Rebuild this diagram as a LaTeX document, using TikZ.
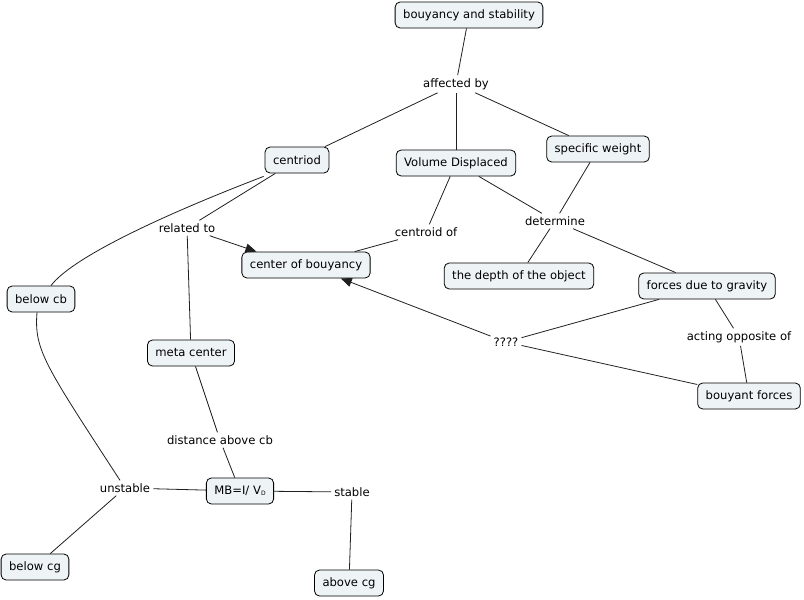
\documentclass[tikz,border=0pt]{standalone}
\usepackage{fontspec}
\setmainfont{DejaVu Sans}
\usetikzlibrary{arrows.meta}
\definecolor{boxfill}{HTML}{EEF3F6}
\definecolor{ln}{HTML}{202020}
\begin{document}
\begin{tikzpicture}[x=1pt,y=-1pt,
  every node/.style={font=\fontsize{11.6}{14}\selectfont, text=black},
  concept/.style={draw=black, line width=0.8pt, fill=boxfill, rounded corners=5pt,
    minimum height=26pt, inner xsep=8pt, inner ysep=2pt},
  linkp/.style={inner sep=3pt},
  conn/.style={draw=ln, line width=0.8pt},
  arr/.style={conn, -{Triangle[length=11pt,width=9pt]}}]
\useasboundingbox (0,0) rectangle (804,600);
\fill[white] (0,0) rectangle (804,600);
% concepts
\node[concept] (bs) at (469,15) {bouyancy and stability};
\node[concept] (cen) at (297,160) {centriod};
\node[concept] (vd) at (456,163) {Volume Displaced};
\node[concept] (sw) at (598,149) {specific weight};
\node[concept] (cob) at (306,265) {center of bouyancy};
\node[concept] (dep) at (519,276) {the depth of the object};
\node[concept] (fg) at (707,286) {forces due to gravity};
\node[concept] (bcb) at (41,299) {below cb};
\node[concept] (mc) at (191,353) {meta center};
\node[concept] (bf) at (749,396) {bouyant forces};
\node[concept] (mb) at (240,491) {MB=I/ V\raisebox{-1.5pt}{\fontsize{6}{7}\selectfont D}};
\node[concept] (bcg) at (35,567) {below cg};
\node[concept] (acg) at (349,583) {above cg};
% linking phrases
\node[linkp] (aff) at (456,84) {affected by};
\node[linkp] (rel) at (187,228) {related to};
\node[linkp] (cof) at (426,232) {centroid of};
\node[linkp] (det) at (555,221) {determine};
\node[linkp] (qq) at (506,342) {????};
\node[linkp] (opp) at (739,337) {acting opposite of};
\node[linkp] (dist) at (220,440) {distance above cb};
\node[linkp] (uns) at (125,488) {unstable};
\node[linkp] (sta) at (352,492) {stable};
% connectors
\draw[conn] (bs) -- (aff);
\draw[conn] (aff) -- (cen);
\draw[conn] (aff) -- (vd);
\draw[conn] (aff) -- (sw);
\draw[conn] (cen) -- (rel);
\draw[arr] (rel) -- ([xshift=15pt]cob.north west);
\draw[conn] (rel) -- (mc);
\draw[conn] (vd) -- (cof);
\draw[conn] (cof) -- (cob);
\draw[conn] (vd) -- (det);
\draw[conn] (sw) -- (det);
\draw[conn] (det) -- (dep);
\draw[conn] (det) -- (fg);
\draw[conn] (fg) -- (qq);
\draw[arr] (qq) -- (cob);
\draw[conn] (bf) -- (qq);
\draw[conn] (fg) -- (opp);
\draw[conn] (opp) -- (bf);
\draw[conn] (mc) -- (dist);
\draw[conn] (dist) -- (mb);
\draw[conn] (mb) -- (uns);
\draw[conn] (uns) -- (bcg);
\draw[conn] (mb) -- (sta);
\draw[conn] (sta) -- (acg);
\draw[conn] ([xshift=-1pt,yshift=-3pt]cen.south west) .. controls (150,220) and (70,260) .. ([xshift=10pt]bcb.north);
\draw[conn] ([xshift=-4pt]bcb.south) .. controls (34,350) and (45,365) .. (uns);
\end{tikzpicture}
\end{document}
